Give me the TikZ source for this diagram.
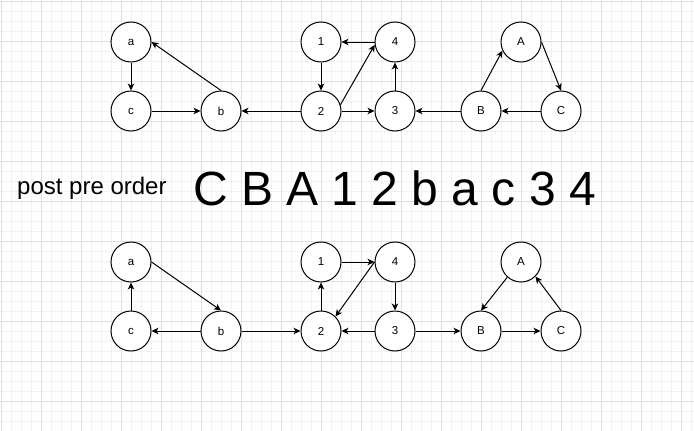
\documentclass[tikz,border=0pt]{standalone}
\usepackage{fontspec}
\setmainfont{Liberation Sans}
\usetikzlibrary{arrows.meta}
\definecolor{gridmajor}{HTML}{DEDEDE}
\definecolor{gridminor}{HTML}{F2F2F2}
\begin{document}
\begin{tikzpicture}[x=1pt, y=-1pt,
  vtx/.style={circle, draw=black, line width=1pt, fill=white,
              minimum size=40pt, inner sep=0pt, font=\fontsize{11.5}{13}\selectfont},
  edge/.style={line width=1pt, -{Stealth[length=7pt,width=6.5pt,inset=2pt]}},
  fine/.style={draw=gridminor, line width=0.8pt},
  heavy/.style={draw=gridmajor, line width=0.8pt}]
\useasboundingbox[fill=white] (0,0) rectangle (694,431);

% grid
\foreach \k in {0,...,69}{\draw[fine] (1+\k*10,0) -- (1+\k*10,431);}
\foreach \k in {0,...,43}{\draw[fine] (0,1+\k*10) -- (694,1+\k*10);}
\foreach \k in {0,...,17}{\draw[heavy] (1+\k*40,0) -- (1+\k*40,431);}
\foreach \k in {0,...,10}{\draw[heavy] (0,1+\k*40) -- (694,1+\k*40);}

% top
\node[vtx] (ta) at (131,42) {a};
\node[vtx] (tc) at (131,111) {c};
\node[vtx] (tb) at (221,111) {b};
\node[vtx] (t1) at (321,42) {1};
\node[vtx] (t2) at (321,111) {2};
\node[vtx] (t4) at (395,42) {4};
\node[vtx] (t3) at (395,111) {3};
\node[vtx] (tA) at (521,42) {A};
\node[vtx] (tB) at (481,111) {B};
\node[vtx] (tC) at (561,111) {C};
\draw[edge] (ta) -- (tc);
\draw[edge] (tc) -- (tb);
\draw[edge] (tb.north) -- (ta.east);
\draw[edge] (t2) -- (tb);
\draw[edge] (t1) -- (t2);
\draw[edge] (t2.18) -- (t4.188);
\draw[edge] (t2) -- (t3);
\draw[edge] (t3) -- (t4);
\draw[edge] (t4) -- (t1);
\draw[edge] (tB.north) -- (tA.205);
\draw[edge] (tA.east) -- (tC.north);
\draw[edge] (tC) -- (tB);
\draw[edge] (tB) -- (t3);

% orders
\node[anchor=base west, inner sep=0pt, font=\fontsize{24}{28}\selectfont]
  (lbl) at (17,194) {post pre order};
\node[anchor=base west, inner sep=0pt, font=\fontsize{48}{56}\selectfont]
  (seq) at (193,205) {C B A 1 2 b a c 3 4};

% bottom
\node[vtx] (ba) at (131,262) {a};
\node[vtx] (bc) at (131,331) {c};
\node[vtx] (bb) at (221,331) {b};
\node[vtx] (b1) at (321,262) {1};
\node[vtx] (b2) at (321,331) {2};
\node[vtx] (b4) at (395,262) {4};
\node[vtx] (b3) at (395,331) {3};
\node[vtx] (bA) at (521,262) {A};
\node[vtx] (bB) at (481,331) {B};
\node[vtx] (bC) at (561,331) {C};
\draw[edge] (bc) -- (ba);
\draw[edge] (ba.east) -- (bb.north);
\draw[edge] (bb) -- (bc);
\draw[edge] (bb) -- (b2);
\draw[edge] (b2) -- (b1);
\draw[edge] (b1) -- (b4);
\draw[edge] (b4.west) -- (b2.45);
\draw[edge] (b4) -- (b3);
\draw[edge] (b3) -- (b2);
\draw[edge] (b3) -- (bB);
\draw[edge] (bB) -- (bC);
\draw[edge] (bC.north) -- (bA.-45);
\draw[edge] (bA.228) -- (bB.north);

\end{tikzpicture}
\end{document}
